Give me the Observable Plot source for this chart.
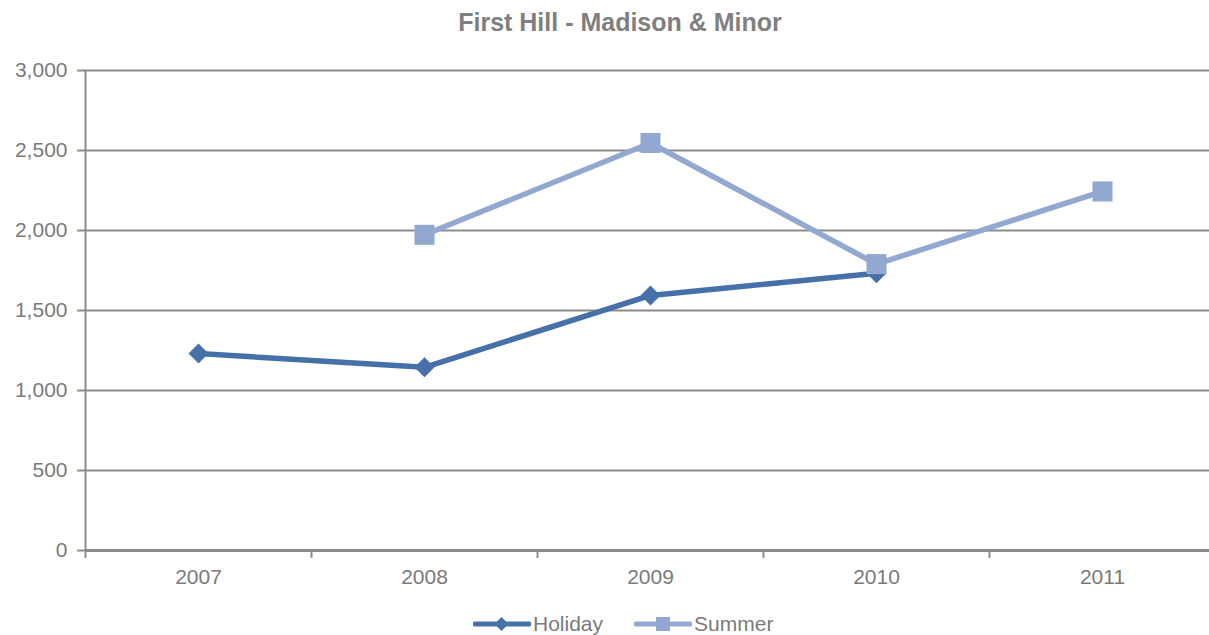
<!DOCTYPE html>
<html>
<head>
<meta charset="utf-8">
<script src="https://cdn.jsdelivr.net/npm/d3@7"></script>
<script src="https://cdn.jsdelivr.net/npm/@observablehq/plot@0.6"></script>
<style>
  html, body { margin: 0; padding: 0; background: #fff; overflow: hidden; }
  body { width: 1209px; height: 635px; position: relative; font-family: "Liberation Sans", Arial, sans-serif; }
  #title { position: absolute; top: 0; left: 0; width: 1240px; height: 45px; line-height: 45px; text-align: center;
           font-weight: bold; font-size: 25px; color: #7f7f7f; }
  #chart { position: absolute; top: 45px; left: 0; width: 1215px; }
  #chart svg { max-width: none !important; }
  #legend { position: absolute; top: 611px; left: 473px; height: 26px; display: flex; align-items: center;
            font-size: 21px; color: #7a7a7a; }
  #legend .item { display: flex; align-items: center; }
  #legend svg { display: block; }
</style>
</head>
<body>
<div id="title">First Hill - Madison &amp; Minor</div>
<div id="chart"></div>
<div id="legend"></div>
<script>
const years = [2007, 2008, 2009, 2010, 2011];
const holiday = [1231, 1145, 1594, 1733, null];
const summer = [null, 1973, 2547, 1790, 2244];
const yTicks = [0, 500, 1000, 1500, 2000, 2500, 3000];
const seriesNames = ["Holiday", "Summer"];
const seriesColors = ["#4571a8", "#93a8d0"];

const rows = [];
years.forEach((yr, i) => {
  if (holiday[i] != null) rows.push({year: yr, value: holiday[i], series: "Holiday"});
  if (summer[i] != null) rows.push({year: yr, value: summer[i], series: "Summer"});
});
const hol = rows.filter(d => d.series === "Holiday");
const sum = rows.filter(d => d.series === "Summer");
const bounds = [years[0] - 0.5, ...years.slice(1).map(y => y - 0.5)];
const gridColor = "#8c8c8c";
const textColor = "#7a7a7a";

const chart = Plot.plot({
  width: 1215,
  height: 555,
  marginTop: 25,
  marginBottom: 50,
  marginLeft: 85,
  marginRight: 0,
  style: {fontFamily: '"Liberation Sans", Arial, sans-serif', fontSize: "21px", background: "transparent", overflow: "visible", maxWidth: "none"},
  x: {domain: [years[0] - 0.5, years[years.length - 1] + 0.5], axis: null},
  y: {domain: [0, 3000], axis: null},
  marks: [
    Plot.gridY(yTicks.slice(1), {stroke: gridColor, strokeOpacity: 1, strokeWidth: 2}),
    Plot.axisY(yTicks, {label: null, tickFormat: d3.format(","), tickSize: 8, tickPadding: 10, stroke: gridColor, strokeWidth: 2, fill: textColor}),
    Plot.ruleX([years[0] - 0.5], {stroke: gridColor, strokeWidth: 2}),
    Plot.ruleY([0], {stroke: gridColor, strokeWidth: 3}),
    Plot.axisX(years, {label: null, tickSize: 0, tickPadding: 19, tickFormat: d => String(d), fill: textColor}),
    Plot.axisX(bounds, {label: null, tickSize: 8, tickFormat: () => "", stroke: gridColor, strokeWidth: 2}),
    Plot.line(hol, {x: "year", y: "value", stroke: seriesColors[0], strokeWidth: 5.5}),
    Plot.dot(hol, {x: "year", y: "value", symbol: "diamond2", r: 9, fill: seriesColors[0], stroke: "none"}),
    Plot.line(sum, {x: "year", y: "value", stroke: seriesColors[1], strokeWidth: 5.5}),
    Plot.dot(sum, {x: "year", y: "value", symbol: "square", r: 11.3, fill: seriesColors[1], stroke: "none"})
  ]
});
document.getElementById("chart").appendChild(chart);

const legend = document.getElementById("legend");
seriesNames.forEach((name, i) => {
  const item = document.createElement("div");
  item.className = "item";
  if (i > 0) item.style.marginLeft = "31px";
  const marker = i === 0
    ? `<path d="M28.5,-7 L35.5,0 L28.5,7 L21.5,0 Z" fill="${seriesColors[i]}"/>`
    : `<rect x="22" y="-7" width="14" height="14" fill="${seriesColors[i]}"/>`;
  item.innerHTML = `<svg width="58" height="26" viewBox="0 -13 58 26">
      <line x1="2" y1="0" x2="56" y2="0" stroke="${seriesColors[i]}" stroke-width="5" stroke-linecap="round"/>
      ${marker}</svg><span style="margin-left:2px">${name}</span>`;
  legend.appendChild(item);
});
</script>
</body>
</html>
